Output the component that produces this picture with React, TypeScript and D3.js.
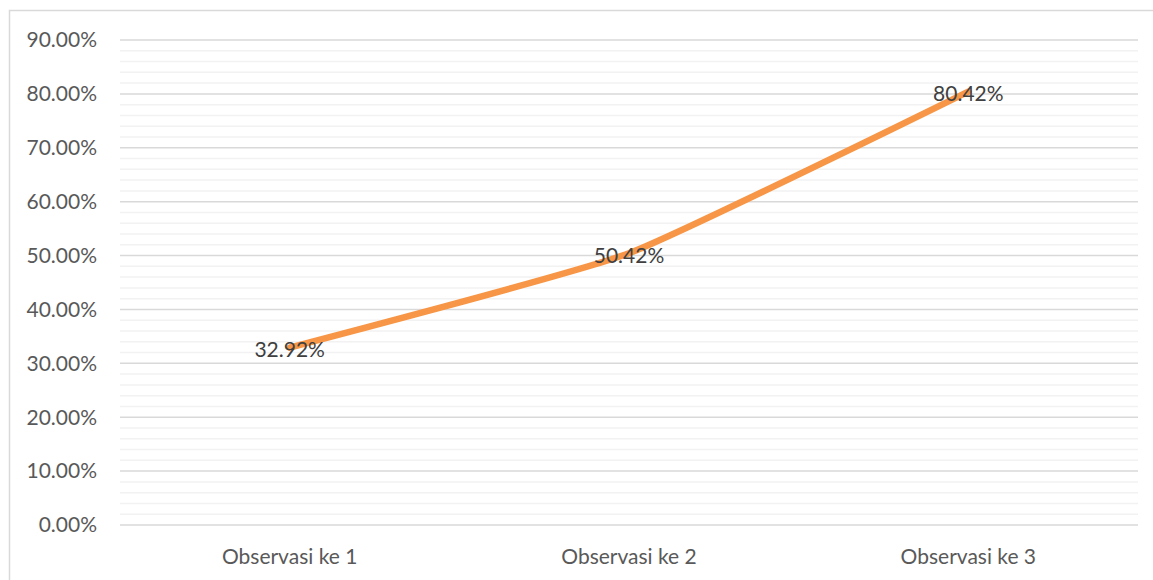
import React from "react";
import * as d3 from "d3";

const categories = ["Observasi ke 1", "Observasi ke 2", "Observasi ke 3"];
const values = [32.92, 50.42, 80.42];
const yMajorTicks = [0, 10, 20, 30, 40, 50, 60, 70, 80, 90];
const yMinorTicks = d3.range(0, 90, 2).filter((v) => v % 10 !== 0);

const W = 1153;
const H = 580;
const left = 120;
const right = 1138;
const top = 40;
const bottom = 525;
const font = "Lato, 'Open Sans', sans-serif";
const fs = 21;

export default function App() {
  const x = d3.scaleBand<string>().domain(categories).range([left, right]);
  const y = d3.scaleLinear().domain([0, 90]).range([bottom, top]);
  const line = d3
    .line<number>()
    .x((_, i) => (x(categories[i]) as number) + x.bandwidth() / 2)
    .y((d) => y(d))
    .curve(d3.curveCardinal.tension(0.55));

  return (
    <svg
      width={W}
      height={H}
      style={{ position: "absolute", left: 0, top: 0, background: "#fff" }}
    >
      <rect x={9.5} y={10.5} width={1160} height={600} fill="#fff" stroke="#d9d9d9" strokeWidth={1.5} />
      {yMinorTicks.map((t) => (
        <line key={"m" + t} x1={left} x2={right} y1={y(t)} y2={y(t)} stroke="#f2f2f2" strokeWidth={1.5} />
      ))}
      {yMajorTicks.map((t) => (
        <line key={"M" + t} x1={left} x2={right} y1={y(t)} y2={y(t)} stroke="#d9d9d9" strokeWidth={1.5} />
      ))}
      {yMajorTicks.map((t) => (
        <text
          key={"l" + t}
          x={97}
          y={y(t)}
          dy="0.35em"
          textAnchor="end"
          fontFamily={font}
          fontSize={fs}
          fill="#595959"
        >
          {t.toFixed(2) + "%"}
        </text>
      ))}
      {categories.map((c) => (
        <text
          key={c}
          x={(x(c) as number) + x.bandwidth() / 2}
          y={557}
          dy="0.35em"
          textAnchor="middle"
          fontFamily={font}
          fontSize={fs}
          fill="#595959"
        >
          {c}
        </text>
      ))}
      <path d={line(values) || ""} fill="none" stroke="#f79646" strokeWidth={6.5} strokeLinecap="round" strokeLinejoin="round" />
      {values.map((v, i) => (
        <text
          key={"v" + i}
          x={(x(categories[i]) as number) + x.bandwidth() / 2}
          y={y(v) + 2}
          dy="0.35em"
          textAnchor="middle"
          fontFamily={font}
          fontSize={fs}
          fill="#404040"
        >
          {v.toFixed(2) + "%"}
        </text>
      ))}
    </svg>
  );
}
